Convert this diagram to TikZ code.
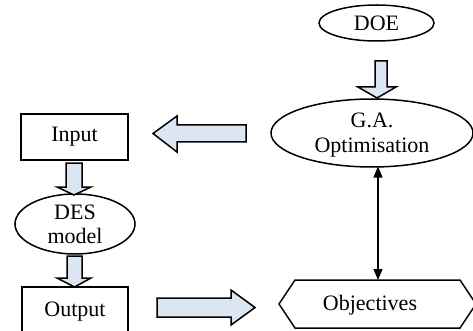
\documentclass[tikz,border=0pt]{standalone}
\usepackage{fontspec}
\setmainfont{Liberation Serif}
\usetikzlibrary{shapes.geometric,arrows.meta}
\definecolor{blockblue}{RGB}{220,230,242}
\tikzset{
  every node/.style={font=\fontsize{22}{24.5}\selectfont},
  boxnode/.style={draw, line width=1.5pt, rectangle, inner sep=0pt},
  ellnode/.style={draw, line width=1.5pt, ellipse, inner sep=0pt},
  txt/.style={align=center, inner sep=0pt},
  blockarrow/.style={draw, line width=1.5pt, fill=blockblue, line join=miter},
  link/.style={line width=1.3pt, {Triangle[length=11pt,width=9pt]}-{Triangle[length=11pt,width=9pt]}}
}
\begin{document}
\begin{tikzpicture}[x=1pt,y=-1pt]
\useasboundingbox (0,0) rectangle (473,331);
\clip (0,0) rectangle (473,331);
% nodes
\node[boxnode, minimum width=107, minimum height=46] (input) at (74.5,137) {Input};
\node[ellnode, minimum width=120, minimum height=60] (des) at (75,224) {};
\node[txt] (destxt) at (75,224.5) {DES\\model};
\node[boxnode, minimum width=106, minimum height=52] (output) at (75,313) {};
\node[txt] (outtxt) at (75,312) {Output};
\node[ellnode, minimum width=115, minimum height=36] (doe) at (376.5,23) {DOE};
\node[ellnode, minimum width=202, minimum height=68] (ga) at (372,133) {};
\node[txt] (gatxt) at (372,135) {G.A.\\Optimisation};
\coordinate (obj) at (377.5,304);
\draw[line width=1.5pt] (279,304) -- (295,280) -- (460,280) -- (476,304) -- (460,328) -- (295,328) -- cycle;
\node[txt] (objtxt) at (370,305) {Objectives};
\coordinate (objtop) at (378,280);
\coordinate (gabot) at (378,166.5);
% block arrows
\draw[blockarrow] (66,163) -- (82,163) -- (82,187) -- (91,187) -- (74,195) -- (57,187) -- (66,187) -- cycle;
\draw[blockarrow] (67,256) -- (82,256) -- (82,278) -- (91,278) -- (74.5,287) -- (57,278) -- (67,278) -- cycle;
\draw[blockarrow] (375,61) -- (387,61) -- (387,87) -- (396,87) -- (377,98) -- (358,87) -- (375,87) -- cycle;
\draw[blockarrow] (246,125) -- (177,125) -- (177,116) -- (153,133.5) -- (177,152) -- (177,142) -- (246,142) -- cycle;
\draw[blockarrow] (157,298) -- (231,298) -- (231,290) -- (255,307.5) -- (231,325) -- (231,317) -- (157,317) -- cycle;
% connector
\draw[link] (gabot) -- (objtop);
\end{tikzpicture}
\end{document}
